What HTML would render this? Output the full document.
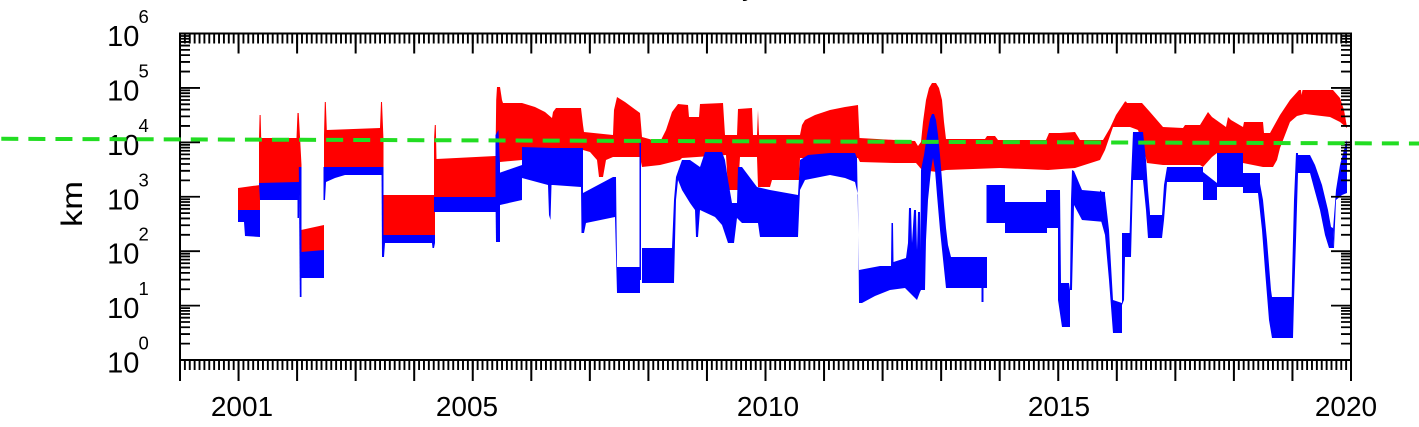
<!DOCTYPE html>
<html>
<head>
<meta charset="utf-8">
<style>
html,body{margin:0;padding:0;background:#fff;}
svg{display:block;}
text{font-family:"Liberation Sans",Arial,sans-serif;fill:#000;}
</style>
</head>
<body>
<svg width="1419" height="427" viewBox="0 0 1419 427" xmlns="http://www.w3.org/2000/svg">
<rect width="1419" height="427" fill="#fff"/>
<!-- title fragment -->
<text x="742" y="-5" font-size="28">y</text>

<!-- RED series -->
<g fill="#ff0000">
<polygon points="238,188 260,185 260,211 238,211"/>
<polygon points="259,186 259,138 259.6,115 260.6,115 261.2,138 296.5,138 297.5,113 298.7,113 301.5,165 301.5,186"/>
<polygon points="301,230 324,225 324,253 301,253"/>
<polygon points="324,168 324,135 324.8,102 325.8,102 326.8,130 380,128 381,102 382,102 383.5,140 383.5,168"/>
<polygon points="383,195 435,195 435,236 383,236"/>
<polygon points="434,236 434,140 434.8,125 435.8,125 436.5,159 495.5,156 496.2,100 497,87 498,87 499,100 500,103 500,165 497,199 434,199"/>
<polygon points="497,100 498,87 500,87 502,100 503,103 522,103 535,107 545,112 552,118 553,112 556,108 581,108 583,125 584,132 613,135 614,110 617,97 625,102 640,113 642,137 660,142 666,130 672,112 678,104 688,105 689,117 699,117 700,104 723,103 725,135 737,135 738,109 752,108 753,135 757,135 758,110 759,135 800,135 802,125 805,120 815,115 830,110 845,107 858,105 859.5,138 895,140 915,141 918,146 921,142 923,122 926,100 929,88 932,83 936,83 939,88 942,100 944,122 946,139 985,139 987,136 995,136 998,140 1046,140 1049,133 1060,133 1075,132 1080,140 1103,140 1110,128 1116,115 1124,103 1125,101.5 1126,101.5 1127,103 1142,103 1150,112 1163,127 1183,128 1185,125 1200,125 1208,112 1212,117 1226,127 1228,117 1231,120 1243,127 1244,122 1263,122 1264,133 1270,133 1280,115 1290,100 1299,90 1301,90 1301.5,95 1302.5,90 1333,90 1340,98 1344,110 1347,127 1347,128 1340,122 1330,117 1305,114 1297,116 1290,122 1285,135 1280,148 1277,160 1273,167 1263,167 1243,163 1242,153 1217,153 1212,157 1203,167 1200,165 1163,165 1147,163 1143,145 1138,130 1130,127 1113,127 1105,150 1100,160 1075,168 1048,170 1000,168 946,170 937,172 922,170 916,163 895,163 860,162 858,158 800,158 799,180 772,180 770,187 758,187 757,157 740,157 738,190 728,190 726,155 682,158 680,160 660,165 642,167 640,157 613,157 606,160 603,177 599,177 597,160 590,152 583,150 553,150 522,150 522,160 500,162 497,165"/>
</g>

<!-- BLUE series -->
<g fill="#0000ff">
<polygon points="238,210 260,210 260,237 245,236 244,222 238,222"/>
<polygon points="259,183 298,182 298,200 260,200"/>
<polygon points="297.5,182 299,182 299,218 297.5,218"/>
<polygon points="298.8,167 301.5,167 301.5,297 299.8,297"/>
<polygon points="301,252 324,250 324,278 301,278"/>
<polygon points="323.5,167 383,167 383,175 345,175 335,178 326,182 325,200 323.5,200"/>
<polygon points="381.5,167 383.5,167 383.5,257 382,257"/>
<polygon points="383,235 435,235 435,243 434,248 432.5,248 432,243 385,243 384,257 383,257"/>
<polygon points="434,197 497,197 497,212 434,212"/>
<polygon points="495.5,135 498.5,130 500,165 500,242 496,242 495.5,200"/>
<polygon points="499,173 522,165 522,200 500,205"/>
<polygon points="522,147 553,148 553,185 551.5,185 550.5,220 549,215 548,185 522,178"/>
<polygon points="553,148 583,148 583,233 581.5,233 581,187 553,185"/>
<polygon points="583,193 613,177 616,177 617,267 640,267 640,293 617,293 615,217 586,223 584,233 583,233"/>
<polygon points="639.5,142 641,142 641,280 639.5,280"/>
<polygon points="642,248 672,248 674,200 676,177 682,160 690,160 700,167 705,152 722,152 725,160 728,180 732,203 737,203 738,167 742,167 757,187 770,190 798,195 800,160 808,155 830,153 855,153 857,158 859,270 880,266 891,266 891.5,223 893,223 893.5,262 906,258 908,243 909,208 911,208 912,243 914,210 916,210 917,250 918,212 920,212 921,290 920,292 917,300 905,288 890,290 875,296 862,303 859,303 858,195 855,182 845,178 830,175 805,180 800,190 798,237 760,237 758,223 742,223 737,218 734,243 728,243 722,225 715,217 700,210 698,237 696,237 695,210 690,203 682,190 678,180 676,200 674,283 642,283"/>
<polygon points="920,290 921,170 924,155 927,135 930,119 932,114 934,114 936,120 938,135 940,155 942,180 944,205 946,228 948,245 951,257 987,257 987,288 951,288 946,288 940,230 937,195 935,170 933,158 931,170 928,200 926,240 925,290"/>
<polygon points="981.5,280 983.5,280 983.5,302 981.5,302"/>
<polygon points="986.5,185 1005,185 1005,223 986.5,223"/>
<polygon points="1005,202 1047,202 1047,233 1005,233"/>
<polygon points="1046,190 1058,190 1059,228 1046,228"/>
<polygon points="1058,190 1060,190 1061,283 1069,283 1070,290 1070,327 1062,327 1058,300"/>
<polygon points="1070,290 1071,200 1072,170 1074,171 1082,190 1105,192 1105,222 1082,220 1074,205 1072,290"/>
<polygon points="1100,190 1105,195 1109,230 1113,300 1122,303 1122,333 1113,333 1109,280 1105,235 1100,217"/>
<polygon points="1122,233 1130,233 1130,257 1125,257 1124,300 1122,305"/>
<polygon points="1129,257 1131,180 1133,132 1143,132 1146,160 1148,190 1150,213 1150,238 1148,238 1146,210 1143,180 1133,180 1131,257"/>
<polygon points="1150,215 1162,215 1164,185 1167,167 1167,182 1164,220 1162,238 1150,238"/>
<polygon points="1167,167 1203,167 1203,182 1167,182"/>
<polygon points="1203,172 1217,183 1217,200 1203,200"/>
<polygon points="1217,153 1243,153 1243,187 1217,187"/>
<polygon points="1243,173 1260,173 1260,193 1243,193"/>
<polygon points="1258,173 1263,200 1267,240 1271,290 1272,297 1272,338 1269,320 1265,270 1262,230 1258,193"/>
<polygon points="1272,297 1292,297 1292,338 1272,338"/>
<polygon points="1291,338 1292,280 1294,200 1296,153 1298,153 1298,173 1296,240 1294,300 1293,338"/>
<polygon points="1296,155 1310,155 1310,173 1296,173"/>
<polygon points="1310,155 1315,165 1322,185 1328,210 1331,227 1333,228 1334,248 1329,248 1325,235 1320,210 1314,188 1310,173"/>
<polygon points="1333,230 1336,190 1340,165 1344,150 1347,140 1347,193 1342,195 1336,200 1334,248"/>
</g>

<!-- Frame -->
<rect x="180" y="33.5" width="1171" height="326.5" fill="none" stroke="#000" stroke-width="2"/>

<!-- X ticks: top (inward) -->
<line x1="179.05" y1="38.5" x2="1352" y2="38.5" stroke="#000" stroke-width="10" stroke-dasharray="1.9 2.9792"/>
<line x1="179" y1="43.5" x2="1352" y2="43.5" stroke="#000" stroke-width="20" stroke-dasharray="2 56.55"/>
<!-- X ticks: bottom (outward) -->
<line x1="179.05" y1="365" x2="1352" y2="365" stroke="#000" stroke-width="10" stroke-dasharray="1.9 2.9792"/>
<line x1="179" y1="370.5" x2="1352" y2="370.5" stroke="#000" stroke-width="21" stroke-dasharray="2 56.55"/>

<!-- Y ticks -->
<defs>
<path id="lt" fill="none" stroke="#000" stroke-width="1.8" d="M180 35.99h10M180 38.77h10M180 41.93h10M180 45.57h10M180 49.88h10M180 55.16h10M180 61.96h10M180 71.54h10M180 87.92h20M180 90.41h10M180 93.19h10M180 96.35h10M180 99.99h10M180 104.3h10M180 109.58h10M180 116.38h10M180 125.96h10M180 142.34h20M180 144.83h10M180 147.61h10M180 150.77h10M180 154.41h10M180 158.72h10M180 164h10M180 170.8h10M180 180.38h10M180 196.76h20M180 199.25h10M180 202.03h10M180 205.19h10M180 208.83h10M180 213.14h10M180 218.42h10M180 225.22h10M180 234.8h10M180 251.18h20M180 253.67h10M180 256.45h10M180 259.61h10M180 263.25h10M180 267.56h10M180 272.84h10M180 279.64h10M180 289.22h10M180 305.6h20M180 308.09h10M180 310.87h10M180 314.03h10M180 317.67h10M180 321.98h10M180 327.26h10M180 334.06h10M180 343.64h10"/>
</defs>
<use href="#lt"/>
<use href="#lt" transform="translate(1531,0) scale(-1,1)"/>

<!-- Y labels -->
<g font-size="29" text-anchor="end">
<text x="139.4" y="46">10</text>
<text x="139.4" y="100.4">10</text>
<text x="139.4" y="154.8">10</text>
<text x="139.4" y="209.3">10</text>
<text x="139.4" y="263.7">10</text>
<text x="139.4" y="318.1">10</text>
<text x="139.4" y="372.5">10</text>
</g>
<g font-size="18.5">
<text x="138.5" y="23">6</text>
<text x="138.5" y="77.4">5</text>
<text x="138.5" y="131.8">4</text>
<text x="138.5" y="186.3">3</text>
<text x="138.5" y="240.7">2</text>
<text x="138.5" y="295.1">1</text>
<text x="138.5" y="349.5">0</text>
</g>

<!-- X labels -->
<g font-size="28" text-anchor="middle">
<text x="242" y="416">2001</text>
<text x="467" y="416">2005</text>
<text x="768" y="416">2010</text>
<text x="1059" y="416">2015</text>
<text x="1346" y="416">2020</text>
</g>

<!-- Y axis title -->
<text font-size="30" text-anchor="middle" transform="translate(82,204) rotate(-90) scale(1.15,1)">km</text>

<!-- Green dashed reference line -->
<line x1="0" y1="138.8" x2="1419" y2="143.5" stroke="#22dd22" stroke-width="4" stroke-dasharray="17 10.07" stroke-dashoffset="25.77"/>
</svg>
</body>
</html>
